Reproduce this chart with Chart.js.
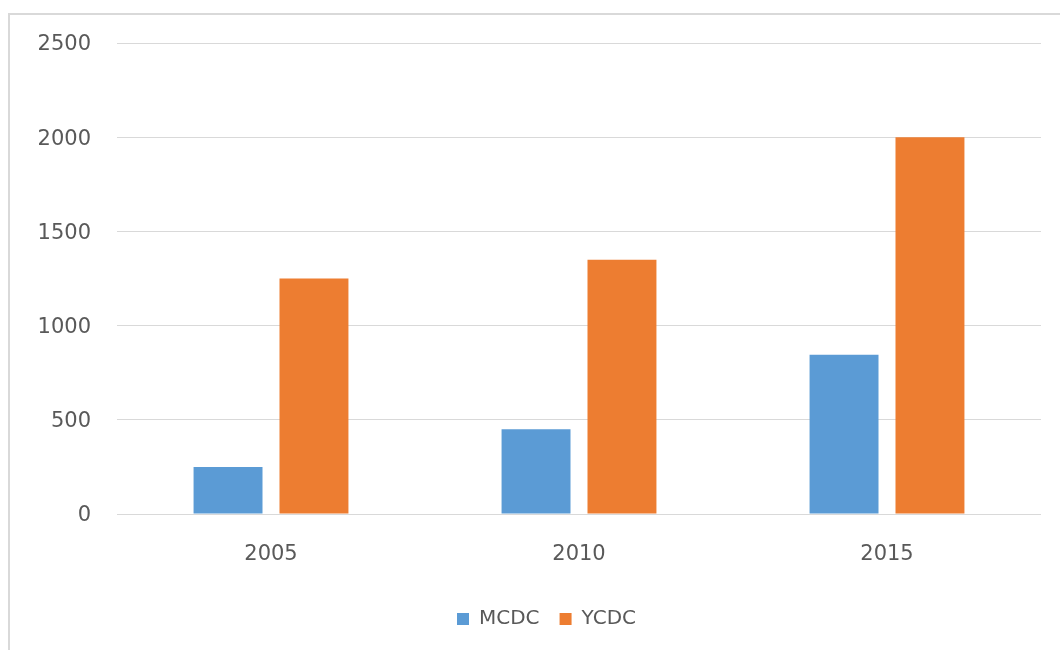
<!DOCTYPE html>
<html>
<head>
<meta charset="utf-8">
<script src="https://cdn.jsdelivr.net/npm/chart.js@4"></script>
<style>
  html, body { margin: 0; padding: 0; background: #fff; }
  #frame { position: absolute; left: 8px; top: 13px; width: 1100px; height: 700px;
           border-top: 2px solid #d9d9d9; border-left: 2px solid #d9d9d9; }
  #wrap { position: absolute; left: 0; top: 0; width: 1060px; height: 650px; }
</style>
</head>
<body>
<div id="frame"></div>
<div id="wrap"><canvas id="c" width="1060" height="650"></canvas></div>
<script>
const categories = ['2005', '2010', '2015'];
const seriesNames = ['MCDC', 'YCDC'];
const mcdcValues = [250, 450, 845];
const ycdcValues = [1250, 1350, 2000];
const yTicks = [0, 500, 1000, 1500, 2000, 2500];

const textColor = '#595959';
const fontFamily = '"DejaVu Sans", sans-serif';

const legendShift = {
  id: 'legendShift',
  afterLayout(chart) {
    if (chart.legend) { chart.legend.left += 26; chart.legend.right += 26; }
  }
};

new Chart(document.getElementById('c'), {
  type: 'bar',
  data: {
    labels: categories,
    datasets: [
      { label: seriesNames[0], data: mcdcValues, backgroundColor: '#5b9bd5',
        barPercentage: 0.8023, categoryPercentage: 0.558 },
      { label: seriesNames[1], data: ycdcValues, backgroundColor: '#ed7d31',
        barPercentage: 0.8023, categoryPercentage: 0.558 }
    ]
  },
  plugins: [legendShift],
  options: {
    responsive: false,
    animation: false,
    layout: { padding: { top: 43, right: 19, bottom: 11, left: 0 } },
    plugins: {
      tooltip: { enabled: false },
      legend: {
        position: 'bottom',
        labels: {
          boxWidth: 12, boxHeight: 12, padding: 20, color: textColor,
          font: { family: fontFamily, size: 20 }
        }
      }
    },
    scales: {
      x: {
        grid: { display: false },
        border: { display: false },
        ticks: { color: textColor, padding: 20, font: { family: fontFamily, size: 21 } },
        afterFit: (s) => { s.height = 75; }
      },
      y: {
        min: 0, max: 2500,
        afterBuildTicks: (s) => { s.ticks = yTicks.map(v => ({ value: v })); },
        grid: { color: '#d9d9d9', lineWidth: 1, drawTicks: false },
        border: { display: false },
        ticks: { color: textColor, padding: 26, labelOffset: 2,
                 font: { family: fontFamily, size: 21 },
                 callback: (v) => String(v) },
        afterFit: (s) => { s.width = 117; }
      }
    }
  }
});
</script>
</body>
</html>
